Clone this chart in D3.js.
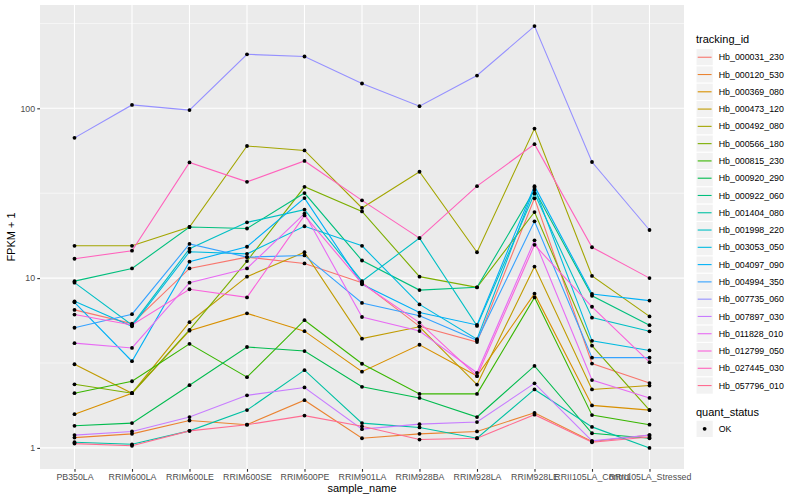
<!DOCTYPE html>
<html>
<head>
<meta charset="utf-8">
<script src="https://cdn.jsdelivr.net/npm/d3@7"></script>
<style>
body { margin: 0; background: white; }
text { font-family: "Liberation Sans", Arial, sans-serif; }
</style>
</head>
<body>
<svg width="800" height="500"></svg>
<script>
// samples along the x axis
var samples = ['PB350LA', 'RRIM600LA', 'RRIM600LE', 'RRIM600SE', 'RRIM600PE', 'RRIM901LA',
    'RRIM928BA', 'RRIM928LA', 'RRIM928LE', 'RRII105LA_Control', 'RRII105LA_Stressed'];

// FPKM + 1 per gene, one value per sample
var hb_000031_230 = [6.5, 5.4, 11.4, 13.3, 12.2, 9.4, 5.2, 4.2, 29.5, 3.14, 2.41];
var hb_000120_530 = [1.15, 1.21, 1.45, 1.37, 1.91, 1.14, 1.21, 1.25, 1.61, 1.09, 1.19];
var hb_000369_080 = [1.58, 2.1, 4.9, 6.2, 4.87, 2.81, 4.05, 2.65, 8.1, 1.78, 1.67];
var hb_000473_120 = [3.11, 2.1, 5.5, 10.2, 14.2, 4.4, 5.17, 2.36, 11.7, 2.21, 2.33];
var hb_000492_080 = [15.5, 15.5, 20.0, 60.0, 56.5, 25.9, 42.3, 14.2, 76.0, 10.3, 5.95];
var hb_000566_180 = [2.37, 2.1, 4.95, 12.6, 34.5, 24.7, 10.2, 8.83, 24.5, 4.0, 1.67];
var hb_000815_230 = [2.1, 2.47, 4.1, 2.61, 5.65, 3.13, 2.08, 2.08, 7.7, 1.56, 1.37];
var hb_000920_290 = [1.35, 1.4, 2.34, 3.93, 3.72, 2.29, 1.97, 1.52, 3.04, 1.22, 1.14];
var hb_000922_060 = [9.6, 11.4, 20.0, 19.6, 31.7, 12.7, 8.5, 8.83, 33.0, 7.87, 5.28];
var hb_001404_080 = [1.08, 1.05, 1.26, 1.67, 2.87, 1.4, 1.32, 1.14, 2.21, 1.33, 1.0];
var hb_001998_220 = [9.4, 5.3, 14.9, 21.3, 25.3, 9.6, 17.2, 5.23, 31.5, 5.85, 4.86];
var hb_003053_050 = [7.3, 5.2, 14.3, 13.9, 20.2, 15.5, 7.0, 4.37, 34.0, 4.27, 3.75];
var hb_004097_090 = [7.2, 3.24, 12.5, 15.3, 29.6, 9.2, 6.27, 5.3, 34.8, 8.06, 7.37];
var hb_004994_350 = [5.1, 6.13, 15.9, 13.3, 13.6, 7.14, 6.0, 4.3, 21.6, 3.4, 3.4];
var hb_007735_060 = [67, 104.7, 97.6, 208, 202, 140, 103, 156, 305, 48.3, 19.2];
var hb_007897_030 = [1.19, 1.25, 1.52, 2.04, 2.27, 1.29, 1.38, 1.42, 2.4, 1.1, 1.19];
var hb_011828_010 = [4.14, 3.88, 9.4, 11.4, 24.0, 5.9, 4.88, 2.77, 16.7, 2.51, 1.97];
var hb_012799_050 = [6.1, 5.3, 8.6, 7.7, 23.4, 9.3, 5.47, 2.65, 15.7, 6.78, 3.2];
var hb_027445_030 = [13.0, 14.5, 48.0, 36.9, 49.0, 28.7, 17.2, 34.8, 61.5, 15.2, 10.0];
var hb_057796_010 = [1.06, 1.03, 1.26, 1.37, 1.55, 1.34, 1.12, 1.14, 1.57, 1.08, 1.16];

var trackingIds = ['Hb_000031_230', 'Hb_000120_530', 'Hb_000369_080', 'Hb_000473_120', 'Hb_000492_080',
    'Hb_000566_180', 'Hb_000815_230', 'Hb_000920_290', 'Hb_000922_060', 'Hb_001404_080',
    'Hb_001998_220', 'Hb_003053_050', 'Hb_004097_090', 'Hb_004994_350', 'Hb_007735_060',
    'Hb_007897_030', 'Hb_011828_010', 'Hb_012799_050', 'Hb_027445_030', 'Hb_057796_010'];
var geneValues = [hb_000031_230, hb_000120_530, hb_000369_080, hb_000473_120, hb_000492_080,
    hb_000566_180, hb_000815_230, hb_000920_290, hb_000922_060, hb_001404_080,
    hb_001998_220, hb_003053_050, hb_004097_090, hb_004994_350, hb_007735_060,
    hb_007897_030, hb_011828_010, hb_012799_050, hb_027445_030, hb_057796_010];

var quantStatus = ['OK'];
var yTicks = [1, 10, 100];

// ggplot hue palette for 20 levels
var hue = ['#F8766D', '#EA8331', '#D89000', '#C09B00', '#A3A500', '#7CAE00', '#39B600', '#00BB4E',
    '#00BF7D', '#00C1A3', '#00BFC4', '#00BAE0', '#00B0F6', '#35A2FF', '#9590FF', '#C77CFF',
    '#E76BF3', '#FA62DB', '#FF62BC', '#FF6C91'];

var series = trackingIds.map(function(id, i) {
    return {id: id, values: geneValues[i]};
});

var svg = d3.select('svg');
var panel = {left: 40, right: 684, top: 5, bottom: 469};

var x = d3.scalePoint()
    .domain(samples)
    .range([panel.left, panel.right])
    .padding(0.6);

var all = d3.merge(geneValues);
var lo = Math.log10(d3.min(all)), hi = Math.log10(d3.max(all));
var pad = (hi - lo) * 0.05;
var y = d3.scaleLog()
    .domain([Math.pow(10, lo - pad), Math.pow(10, hi + pad)])
    .range([panel.bottom, panel.top]);

var color = d3.scaleOrdinal().domain(trackingIds).range(hue);

// panel + grid
svg.append('rect')
    .attr('x', panel.left)
    .attr('y', panel.top)
    .attr('width', panel.right - panel.left)
    .attr('height', panel.bottom - panel.top)
    .style('fill', '#EBEBEB');

var minorTicks = yTicks.map(function(d) { return d * Math.sqrt(10); })
    .filter(function(d) { return d < y.domain()[1]; });

svg.selectAll('.minor')
    .data(minorTicks)
    .enter().append('line')
    .attr('class', 'minor')
    .attr('x1', panel.left).attr('x2', panel.right)
    .attr('y1', function(d) { return y(d); })
    .attr('y2', function(d) { return y(d); })
    .style('stroke', 'white')
    .style('stroke-width', 0.55);

svg.selectAll('.hmajor')
    .data(yTicks)
    .enter().append('line')
    .attr('class', 'hmajor')
    .attr('x1', panel.left).attr('x2', panel.right)
    .attr('y1', function(d) { return y(d); })
    .attr('y2', function(d) { return y(d); })
    .style('stroke', 'white')
    .style('stroke-width', 1.1);

svg.selectAll('.vmajor')
    .data(samples)
    .enter().append('line')
    .attr('class', 'vmajor')
    .attr('x1', function(d) { return x(d); })
    .attr('x2', function(d) { return x(d); })
    .attr('y1', panel.top).attr('y2', panel.bottom)
    .style('stroke', 'white')
    .style('stroke-width', 1.1);

// lines
var line = d3.line()
    .x(function(d, i) { return x(samples[i]); })
    .y(function(d) { return y(d); });

svg.selectAll('.gene')
    .data(series)
    .enter().append('path')
    .attr('class', 'gene')
    .attr('d', function(d) { return line(d.values); })
    .style('fill', 'none')
    .style('stroke', function(d) { return color(d.id); })
    .style('stroke-width', 1.1);

// points
var pts = [];
series.forEach(function(s) {
    s.values.forEach(function(v, i) { pts.push({sample: samples[i], value: v}); });
});

svg.selectAll('.pt')
    .data(pts)
    .enter().append('circle')
    .attr('class', 'pt')
    .attr('cx', function(d) { return x(d.sample); })
    .attr('cy', function(d) { return y(d.value); })
    .attr('r', 1.9)
    .style('fill', 'black');

// axes
var xAxis = svg.append('g')
    .attr('transform', 'translate(0,' + panel.bottom + ')')
    .call(d3.axisBottom(x).tickSize(2.75).tickPadding(2.2));

var yAxis = svg.append('g')
    .attr('transform', 'translate(' + panel.left + ',0)')
    .call(d3.axisLeft(y).tickValues(yTicks).tickFormat(d3.format('d')).tickSize(2.75).tickPadding(2.2));

[xAxis, yAxis].forEach(function(g) {
    g.select('.domain').remove();
    g.selectAll('.tick line').style('stroke', '#333333').style('stroke-width', 1.1);
    g.selectAll('.tick text')
        .style('fill', '#4D4D4D')
        .style('font-size', '8.8px')
        .style('font-family', '"Liberation Sans", Arial, sans-serif');
});

svg.append('text')
    .attr('x', (panel.left + panel.right) / 2)
    .attr('y', 492)
    .attr('text-anchor', 'middle')
    .style('font-size', '11px')
    .text('sample_name');

svg.append('text')
    .attr('transform', 'translate(15,' + (panel.top + panel.bottom) / 2 + ') rotate(-90)')
    .attr('text-anchor', 'middle')
    .style('font-size', '11px')
    .text('FPKM + 1');

// legend: tracking_id
var keySize = 17.28;
var legX = 696, legY = 48.6;

svg.append('text')
    .attr('x', legX)
    .attr('y', legY - 6)
    .style('font-size', '11px')
    .text('tracking_id');

var keys = svg.selectAll('.key')
    .data(trackingIds)
    .enter().append('g')
    .attr('class', 'key')
    .attr('transform', function(d, i) { return 'translate(' + legX + ',' + (legY + i * keySize) + ')'; });

keys.append('rect')
    .attr('width', keySize)
    .attr('height', keySize)
    .style('fill', '#F2F2F2')
    .style('stroke', 'white');

keys.append('line')
    .attr('x1', 1.7).attr('x2', keySize - 1.7)
    .attr('y1', keySize / 2).attr('y2', keySize / 2)
    .style('stroke', function(d) { return color(d); })
    .style('stroke-width', 1.1);

keys.append('text')
    .attr('x', keySize + 5.5)
    .attr('y', keySize / 2)
    .attr('dy', '0.35em')
    .style('font-size', '8.8px')
    .text(function(d) { return d; });

// legend: quant_status
var qY = legY + trackingIds.length * keySize + 26;

svg.append('text')
    .attr('x', legX)
    .attr('y', qY - 4)
    .style('font-size', '11px')
    .text('quant_status');

var qKeys = svg.selectAll('.qkey')
    .data(quantStatus)
    .enter().append('g')
    .attr('class', 'qkey')
    .attr('transform', function(d, i) { return 'translate(' + legX + ',' + (qY + i * keySize) + ')'; });

qKeys.append('rect')
    .attr('width', keySize)
    .attr('height', keySize)
    .style('fill', '#F2F2F2')
    .style('stroke', 'white');

qKeys.append('circle')
    .attr('cx', keySize / 2)
    .attr('cy', keySize / 2)
    .attr('r', 1.9)
    .style('fill', 'black');

qKeys.append('text')
    .attr('x', keySize + 5.5)
    .attr('y', keySize / 2)
    .attr('dy', '0.35em')
    .style('font-size', '8.8px')
    .text(function(d) { return d; });
</script>
</body>
</html>
